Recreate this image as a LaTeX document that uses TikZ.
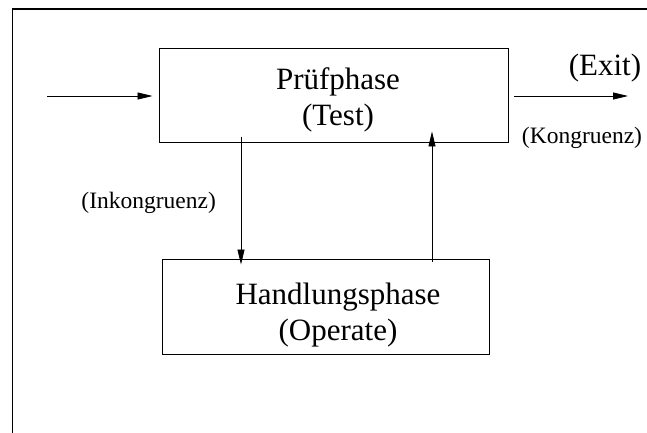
\documentclass[tikz,border=0pt]{standalone}
\usepackage{fontspec}
\setmainfont{Liberation Serif}
\usetikzlibrary{arrows.meta}
\tikzset{
  phasebox/.style={draw, line width=0.9pt, inner sep=0pt},
  phasetext/.style={align=center, inner sep=0pt,
    font=\fontsize{31}{36}\selectfont},
  flow/.style={line width=0.8pt, -{Triangle[length=15pt,width=7pt]}},
  smalllabel/.style={font=\fontsize{23.5}{26}\selectfont, inner sep=0pt},
}
\begin{document}
\begin{tikzpicture}[x=1pt,y=-1pt]
  \useasboundingbox (0,0) rectangle (647,432);
  \clip (0,0) rectangle (647,432);
  % outer frame, running past the right and lower edges
  \draw[line width=1.6pt] (12.5,445) -- (12.5,9) -- (660,9);

  % the two phases
  \node[phasebox, minimum width=349pt, minimum height=94pt] (test) at (333.5,95) {};
  \node[phasetext] (testtext) at (338,100) {Prüfphase\\(Test)};
  \node[phasebox, minimum width=327pt, minimum height=95pt] (operate) at (325.5,306.5) {};
  \node[phasetext] (operatetext) at (338,315) {Handlungsphase\\(Operate)};

  % free ends of the entry and exit connectors
  \coordinate (in) at (47,96);
  \coordinate (out) at (628,96);

  \draw[flow] (in) -- ([xshift=-6pt]test.west |- in);
  \draw[flow] ([xshift=6pt]test.east |- out) -- (out);
  \draw[flow] ([yshift=5pt]test.south -| 241,0) -- ([yshift=-6pt]operate.north -| 241,0);
  \draw[flow] ([yshift=-3pt]operate.north -| 432,0) -- ([yshift=11pt]test.south -| 432,0);

  % labels
  \node[font=\fontsize{31}{34}\selectfont, inner sep=0pt] (exit) at (605,68) {(Exit)};
  \node[smalllabel] (kong) at (582,137.5) {(Kongruenz)};
  \node[smalllabel] (inkong) at (148.7,203) {(Inkongruenz)};
\end{tikzpicture}
\end{document}
